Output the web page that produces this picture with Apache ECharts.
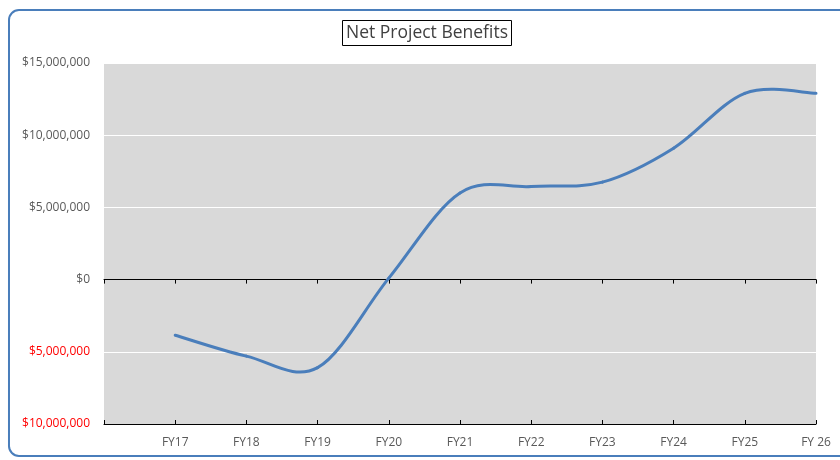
<!DOCTYPE html>
<html>
<head>
<meta charset="utf-8">
<script src="https://cdn.jsdelivr.net/npm/echarts@6/dist/echarts.min.js"></script>
<style>
html,body{margin:0;padding:0;background:#fff;}
#c{width:840px;height:460px;}
</style>
</head>
<body>
<div id="c"></div>
<script>
var categories = ['', 'FY17', 'FY18', 'FY19', 'FY20', 'FY21', 'FY22', 'FY23', 'FY24', 'FY25', 'FY 26'];
var netBenefits = [null, -3850000, -5300000, -6100000, 100000, 6000000, 6450000, 6750000, 9100000, 12900000, 12900000];
var yTicks = {min: -10000000, max: 15000000, interval: 5000000};

var FONT = '"Open Sans", "Noto Sans", sans-serif';
var LINE_COLOR = '#4a7ebb';
var chart = echarts.init(document.getElementById('c'), null, {renderer: 'canvas'});

function fmt(v) {
  var s = '$' + Math.abs(v).toString().replace(/\B(?=(\d{3})+(?!\d))/g, ',');
  return v < 0 ? '{neg|' + s + '}' : s;
}

function valid(i) {
  return i >= 0 && i < netBenefits.length && netBenefits[i] !== null;
}

// Excel-style smoothed segment (cardinal Bezier) between point i and i+1
function renderSegment(params, api) {
  var i = params.dataIndex;
  if (!valid(i) || !valid(i + 1)) return null;
  var i0 = valid(i - 1) ? i - 1 : i;
  var i3 = valid(i + 2) ? i + 2 : i + 1;
  var p0 = api.coord([i0, netBenefits[i0]]);
  var p1 = api.coord([i, netBenefits[i]]);
  var p2 = api.coord([i + 1, netBenefits[i + 1]]);
  var p3 = api.coord([i3, netBenefits[i3]]);
  var k = 1 / 6;
  return {
    type: 'bezierCurve',
    shape: {
      x1: p1[0], y1: p1[1], x2: p2[0], y2: p2[1],
      cpx1: p1[0] + (p2[0] - p0[0]) * k, cpy1: p1[1] + (p2[1] - p0[1]) * k,
      cpx2: p2[0] - (p3[0] - p1[0]) * k, cpy2: p2[1] - (p3[1] - p1[1]) * k
    },
    style: {stroke: LINE_COLOR, lineWidth: 3, fill: null, lineCap: 'round'}
  };
}

chart.setOption({
  animation: false,
  textStyle: {fontFamily: FONT},
  title: {
    text: 'Net Project Benefits',
    left: 342,
    top: 20,
    padding: [3, 4, 3, 4],
    borderColor: '#000',
    borderWidth: 1,
    textStyle: {fontFamily: FONT, fontSize: 17.5, fontWeight: 'normal', color: '#404040', lineHeight: 20}
  },
  graphic: [{
    type: 'rect',
    shape: {x: 9, y: 10, width: 860, height: 446, r: 10},
    style: {fill: 'none', stroke: '#4a7ebb', lineWidth: 2},
    z: 100
  }],
  grid: {
    left: 104, right: 24, top: 63, bottom: 36,
    show: true, backgroundColor: '#d9d9d9', borderWidth: 0
  },
  xAxis: [{
    type: 'category', data: categories, boundaryGap: false, position: 'bottom',
    axisLine: {onZero: true, lineStyle: {color: '#000', width: 1}},
    axisTick: {show: true, inside: false, length: 4, lineStyle: {color: '#000'}},
    axisLabel: {show: false}, splitLine: {show: false}
  }, {
    type: 'category', data: categories, boundaryGap: false, position: 'bottom',
    axisLine: {onZero: true, lineStyle: {color: '#000', width: 1}},
    axisTick: {show: true, inside: true, length: 4, lineStyle: {color: '#000'}},
    axisLabel: {show: false}, splitLine: {show: false}
  }, {
    type: 'category', data: categories, boundaryGap: false, position: 'bottom',
    axisLine: {show: false, onZero: false},
    axisTick: {show: false},
    axisLabel: {show: true, color: '#595959', fontSize: 12, fontFamily: FONT, margin: 13, interval: 0},
    splitLine: {show: false}
  }],
  yAxis: {
    type: 'value', min: yTicks.min, max: yTicks.max, interval: yTicks.interval,
    axisLine: {show: false}, axisTick: {show: false},
    axisLabel: {
      formatter: fmt, color: '#595959', fontSize: 12, fontFamily: FONT, margin: 14,
      rich: {neg: {color: '#ff0000', fontSize: 12, fontFamily: FONT}}
    },
    splitLine: {show: true, lineStyle: {color: '#ffffff', width: 1}}
  },
  series: [{
    type: 'custom', xAxisIndex: 2,
    data: netBenefits.map(function (v, i) { return [i, v === null ? 0 : v]; }),
    renderItem: renderSegment,
    z: 5
  }]
});
</script>
</body>
</html>
